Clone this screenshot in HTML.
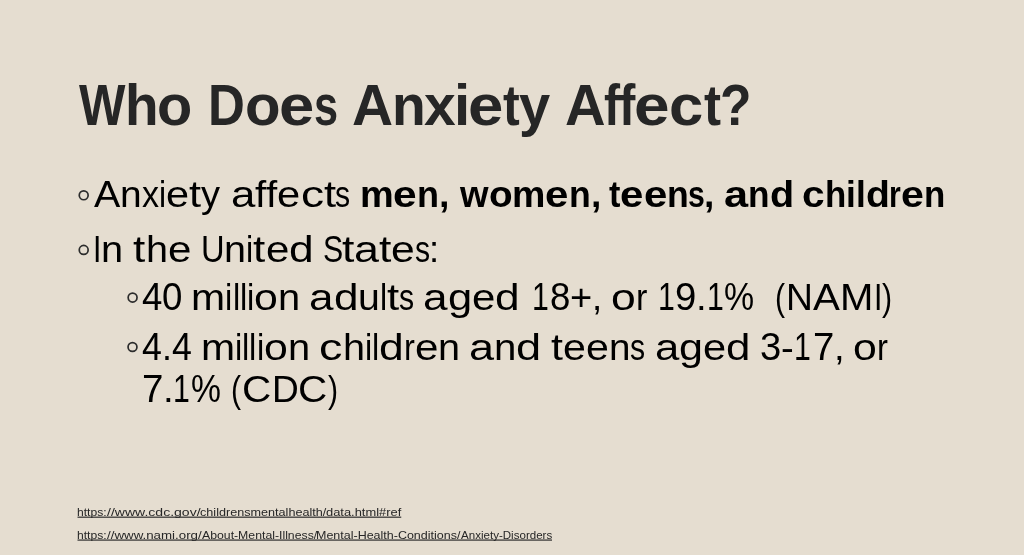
<!DOCTYPE html>
<html><head><meta charset="utf-8"><title>Who Does Anxiety Affect?</title>
<style>
html,body{margin:0;padding:0;}
body{width:1024px;height:555px;background:#e5ddd0;position:relative;overflow:hidden;font-family:"Liberation Sans",sans-serif;}
.w{position:absolute;white-space:nowrap;transform-origin:0 0;line-height:1;display:block;}
#s{position:absolute;left:0;top:0;width:1024px;height:555px;will-change:transform;}
</style></head><body><div id="s">
<svg style="position:absolute;left:0;top:0" width="1024" height="555" viewBox="0 0 1024 555"><circle cx="83.7" cy="195.3" r="4.45" fill="none" stroke="#2c2c2c" stroke-width="1.7"/><circle cx="83.7" cy="249.9" r="4.45" fill="none" stroke="#2c2c2c" stroke-width="1.7"/><circle cx="132.6" cy="297.6" r="4.45" fill="none" stroke="#2c2c2c" stroke-width="1.7"/><circle cx="132.5" cy="347.0" r="4.45" fill="none" stroke="#2c2c2c" stroke-width="1.7"/><rect x="77.5" y="516.6" width="323.75" height="1.15" fill="#262626"/><rect x="77.5" y="539.5" width="474.5" height="1.15" fill="#262626"/></svg>
<span class="w" style="left:78.50px;top:78px;font-size:56.5px;font-weight:700;color:#262626;transform:scaleX(0.8714)">W</span><span class="w" style="left:125.36px;top:78px;font-size:56.5px;font-weight:700;color:#262626;transform:scaleX(0.9722)">h</span><span class="w" style="left:157.45px;top:78px;font-size:56.5px;font-weight:700;color:#262626;transform:scaleX(1.0217)">o</span><span class="w" style="left:207.91px;top:78px;font-size:56.5px;font-weight:700;color:#262626;transform:scaleX(0.9036)">D</span><span class="w" style="left:244.58px;top:78px;font-size:56.5px;font-weight:700;color:#262626;transform:scaleX(1.0300)">o</span><span class="w" style="left:279.47px;top:78px;font-size:56.5px;font-weight:700;color:#262626;transform:scaleX(1.1229)">e</span><span class="w" style="left:314.27px;top:78px;font-size:56.5px;font-weight:700;color:#262626;transform:scaleX(0.7667)">s</span><span class="w" style="left:352.49px;top:78px;font-size:56.5px;font-weight:700;color:#262626;transform:scaleX(1.0066)">A</span><span class="w" style="left:392.43px;top:78px;font-size:56.5px;font-weight:700;color:#262626;transform:scaleX(0.9780)">n</span><span class="w" style="left:424.00px;top:78px;font-size:56.5px;font-weight:700;color:#262626;transform:scaleX(1.0082)">x</span><span class="w" style="left:453.77px;top:78px;font-size:56.5px;font-weight:700;color:#262626;transform:scaleX(1.0323)">i</span><span class="w" style="left:467.57px;top:78px;font-size:56.5px;font-weight:700;color:#262626;transform:scaleX(1.1248)">e</span><span class="w" style="left:503.23px;top:78px;font-size:56.5px;font-weight:700;color:#262626;transform:scaleX(0.8899)">t</span><span class="w" style="left:519.00px;top:78px;font-size:56.5px;font-weight:700;color:#262626;transform:scaleX(0.9918)">y</span><span class="w" style="left:565.01px;top:78px;font-size:56.5px;font-weight:700;color:#262626;transform:scaleX(0.9934)">A</span><span class="w" style="left:604.40px;top:78px;font-size:56.5px;font-weight:700;color:#262626;transform:scaleX(0.8528)">f</span><span class="w" style="left:618.88px;top:78px;font-size:56.5px;font-weight:700;color:#262626;transform:scaleX(0.8694)">f</span><span class="w" style="left:634.35px;top:78px;font-size:56.5px;font-weight:700;color:#262626;transform:scaleX(1.1321)">e</span><span class="w" style="left:669.45px;top:78px;font-size:56.5px;font-weight:700;color:#262626;transform:scaleX(1.0909)">c</span><span class="w" style="left:704.32px;top:78px;font-size:56.5px;font-weight:700;color:#262626;transform:scaleX(0.9043)">t</span><span class="w" style="left:719.99px;top:78px;font-size:56.5px;font-weight:700;color:#262626;transform:scaleX(0.9123)">?</span>
<span class="w" style="left:93.76px;top:176px;font-size:37.8px;font-weight:400;color:#000;transform:scaleX(1.0420)">A</span><span class="w" style="left:120.03px;top:176px;font-size:37.8px;font-weight:400;color:#000;transform:scaleX(1.0301)">n</span><span class="w" style="left:141.69px;top:176px;font-size:37.8px;font-weight:400;color:#000;transform:scaleX(0.9017)">x</span><span class="w" style="left:158.73px;top:176px;font-size:37.8px;font-weight:400;color:#000;transform:scaleX(0.8455)">i</span><span class="w" style="left:165.83px;top:176px;font-size:37.8px;font-weight:400;color:#000;transform:scaleX(1.0977)">e</span><span class="w" style="left:188.90px;top:176px;font-size:37.8px;font-weight:400;color:#000;transform:scaleX(1.1460)">t</span><span class="w" style="left:200.94px;top:176px;font-size:37.8px;font-weight:400;color:#000;transform:scaleX(1.0068)">y</span><span class="w" style="left:230.56px;top:176px;font-size:37.8px;font-weight:400;color:#000;transform:scaleX(1.1595)">a</span><span class="w" style="left:254.93px;top:176px;font-size:37.8px;font-weight:400;color:#000;transform:scaleX(1.0671)">f</span><span class="w" style="left:266.14px;top:176px;font-size:37.8px;font-weight:400;color:#000;transform:scaleX(1.0671)">f</span><span class="w" style="left:277.35px;top:176px;font-size:37.8px;font-weight:400;color:#000;transform:scaleX(1.1035)">e</span><span class="w" style="left:300.54px;top:176px;font-size:37.8px;font-weight:400;color:#000;transform:scaleX(1.2218)">c</span><span class="w" style="left:323.64px;top:176px;font-size:37.8px;font-weight:400;color:#000;transform:scaleX(1.1521)">t</span><span class="w" style="left:335.10px;top:176px;font-size:37.8px;font-weight:400;color:#000;transform:scaleX(0.8000)">s</span><span class="w" style="left:359.74px;top:176px;font-size:37.8px;font-weight:700;color:#000;transform:scaleX(1.0033)">m</span><span class="w" style="left:393.46px;top:176px;font-size:37.8px;font-weight:700;color:#000;transform:scaleX(1.1236)">e</span><span class="w" style="left:417.08px;top:176px;font-size:37.8px;font-weight:700;color:#000;transform:scaleX(0.9527)">n</span><span class="w" style="left:439.08px;top:176px;font-size:37.8px;font-weight:700;color:#000;transform:scaleX(0.9959)">,</span><span class="w" style="left:460.00px;top:176px;font-size:37.8px;font-weight:700;color:#000;transform:scaleX(0.9704)">w</span><span class="w" style="left:488.53px;top:176px;font-size:37.8px;font-weight:700;color:#000;transform:scaleX(1.0226)">o</span><span class="w" style="left:512.14px;top:176px;font-size:37.8px;font-weight:700;color:#000;transform:scaleX(0.9922)">m</span><span class="w" style="left:545.49px;top:176px;font-size:37.8px;font-weight:700;color:#000;transform:scaleX(1.1112)">e</span><span class="w" style="left:568.85px;top:176px;font-size:37.8px;font-weight:700;color:#000;transform:scaleX(0.9422)">n</span><span class="w" style="left:590.61px;top:176px;font-size:37.8px;font-weight:700;color:#000;transform:scaleX(0.9849)">,</span><span class="w" style="left:608.91px;top:176px;font-size:37.8px;font-weight:700;color:#000;transform:scaleX(0.9055)">t</span><span class="w" style="left:620.31px;top:176px;font-size:37.8px;font-weight:700;color:#000;transform:scaleX(1.1099)">e</span><span class="w" style="left:643.65px;top:176px;font-size:37.8px;font-weight:700;color:#000;transform:scaleX(1.1099)">e</span><span class="w" style="left:666.98px;top:176px;font-size:37.8px;font-weight:700;color:#000;transform:scaleX(0.9411)">n</span><span class="w" style="left:687.78px;top:176px;font-size:37.8px;font-weight:700;color:#000;transform:scaleX(0.8000)">s</span><span class="w" style="left:703.67px;top:176px;font-size:37.8px;font-weight:700;color:#000;transform:scaleX(0.9837)">,</span><span class="w" style="left:724.30px;top:176px;font-size:37.8px;font-weight:700;color:#000;transform:scaleX(1.1460)">a</span><span class="w" style="left:748.39px;top:176px;font-size:37.8px;font-weight:700;color:#000;transform:scaleX(0.9319)">n</span><span class="w" style="left:769.91px;top:176px;font-size:37.8px;font-weight:700;color:#000;transform:scaleX(1.0465)">d</span><span class="w" style="left:802.24px;top:176px;font-size:37.8px;font-weight:700;color:#000;transform:scaleX(1.0743)">c</span><span class="w" style="left:824.82px;top:176px;font-size:37.8px;font-weight:700;color:#000;transform:scaleX(0.9222)">h</span><span class="w" style="left:846.11px;top:176px;font-size:37.8px;font-weight:700;color:#000;transform:scaleX(0.9307)">i</span><span class="w" style="left:855.89px;top:176px;font-size:37.8px;font-weight:700;color:#000;transform:scaleX(0.9307)">l</span><span class="w" style="left:865.66px;top:176px;font-size:37.8px;font-weight:700;color:#000;transform:scaleX(1.0355)">d</span><span class="w" style="left:889.45px;top:176px;font-size:37.8px;font-weight:700;color:#000;transform:scaleX(0.8000)">r</span><span class="w" style="left:901.09px;top:176px;font-size:37.8px;font-weight:700;color:#000;transform:scaleX(1.0876)">e</span><span class="w" style="left:923.95px;top:176px;font-size:37.8px;font-weight:700;color:#000;transform:scaleX(0.9222)">n</span>
<span class="w" style="left:93.18px;top:231px;font-size:37.8px;font-weight:400;color:#000;transform:scaleX(0.8000)">I</span><span class="w" style="left:101.48px;top:231px;font-size:37.8px;font-weight:400;color:#000;transform:scaleX(1.0521)">n</span><span class="w" style="left:133.36px;top:231px;font-size:37.8px;font-weight:400;color:#000;transform:scaleX(1.1647)">t</span><span class="w" style="left:145.59px;top:231px;font-size:37.8px;font-weight:400;color:#000;transform:scaleX(1.0469)">h</span><span class="w" style="left:167.60px;top:231px;font-size:37.8px;font-weight:400;color:#000;transform:scaleX(1.1156)">e</span><span class="w" style="left:200.65px;top:231px;font-size:37.8px;font-weight:400;color:#000;transform:scaleX(0.8641)">U</span><span class="w" style="left:224.24px;top:231px;font-size:37.8px;font-weight:400;color:#000;transform:scaleX(1.0450)">n</span><span class="w" style="left:246.21px;top:231px;font-size:37.8px;font-weight:400;color:#000;transform:scaleX(0.8577)">i</span><span class="w" style="left:253.41px;top:231px;font-size:37.8px;font-weight:400;color:#000;transform:scaleX(1.1625)">t</span><span class="w" style="left:265.62px;top:231px;font-size:37.8px;font-weight:400;color:#000;transform:scaleX(1.1135)">e</span><span class="w" style="left:289.03px;top:231px;font-size:37.8px;font-weight:400;color:#000;transform:scaleX(1.1735)">d</span><span class="w" style="left:322.61px;top:231px;font-size:37.8px;font-weight:400;color:#000;transform:scaleX(0.8000)">S</span><span class="w" style="left:341.79px;top:231px;font-size:37.8px;font-weight:400;color:#000;transform:scaleX(1.1789)">t</span><span class="w" style="left:354.17px;top:231px;font-size:37.8px;font-weight:400;color:#000;transform:scaleX(1.1865)">a</span><span class="w" style="left:379.11px;top:231px;font-size:37.8px;font-weight:400;color:#000;transform:scaleX(1.1789)">t</span><span class="w" style="left:391.49px;top:231px;font-size:37.8px;font-weight:400;color:#000;transform:scaleX(1.1292)">e</span><span class="w" style="left:414.76px;top:231px;font-size:37.8px;font-weight:400;color:#000;transform:scaleX(0.8000)">s</span><span class="w" style="left:429.40px;top:231px;font-size:37.8px;font-weight:400;color:#000;transform:scaleX(0.9633)">:</span>
<span class="w" style="left:141.95px;top:279px;font-size:37.8px;font-weight:400;color:#000;transform-origin:0 31px;transform:scale(0.9684,1.035)">4</span><span class="w" style="left:162.31px;top:279px;font-size:37.8px;font-weight:400;color:#000;transform-origin:0 31px;transform:scale(0.9684,1.035)">0</span><span class="w" style="left:191.18px;top:279px;font-size:37.8px;font-weight:400;color:#000;transform:scaleX(1.0818)">m</span><span class="w" style="left:225.24px;top:279px;font-size:37.8px;font-weight:400;color:#000;transform:scaleX(0.8649)">i</span><span class="w" style="left:232.51px;top:279px;font-size:37.8px;font-weight:400;color:#000;transform:scaleX(0.8649)">l</span><span class="w" style="left:239.77px;top:279px;font-size:37.8px;font-weight:400;color:#000;transform:scaleX(0.8649)">l</span><span class="w" style="left:247.03px;top:279px;font-size:37.8px;font-weight:400;color:#000;transform:scaleX(0.8649)">i</span><span class="w" style="left:254.30px;top:279px;font-size:37.8px;font-weight:400;color:#000;transform:scaleX(1.1315)">o</span><span class="w" style="left:278.08px;top:279px;font-size:37.8px;font-weight:400;color:#000;transform:scaleX(1.0537)">n</span><span class="w" style="left:309.15px;top:279px;font-size:37.8px;font-weight:400;color:#000;transform:scaleX(1.1648)">a</span><span class="w" style="left:333.63px;top:279px;font-size:37.8px;font-weight:400;color:#000;transform:scaleX(1.1682)">d</span><span class="w" style="left:358.19px;top:279px;font-size:37.8px;font-weight:400;color:#000;transform:scaleX(1.0369)">u</span><span class="w" style="left:379.99px;top:279px;font-size:37.8px;font-weight:400;color:#000;transform:scaleX(0.8538)">l</span><span class="w" style="left:387.16px;top:279px;font-size:37.8px;font-weight:400;color:#000;transform:scaleX(1.1573)">t</span><span class="w" style="left:398.71px;top:279px;font-size:37.8px;font-weight:400;color:#000;transform:scaleX(0.8000)">s</span><span class="w" style="left:423.24px;top:279px;font-size:37.8px;font-weight:400;color:#000;transform:scaleX(1.1677)">a</span><span class="w" style="left:447.79px;top:279px;font-size:37.8px;font-weight:400;color:#000;transform:scaleX(1.1523)">g</span><span class="w" style="left:472.01px;top:279px;font-size:37.8px;font-weight:400;color:#000;transform:scaleX(1.1112)">e</span><span class="w" style="left:495.37px;top:279px;font-size:37.8px;font-weight:400;color:#000;transform:scaleX(1.1711)">d</span><span class="w" style="left:531.71px;top:279px;font-size:37.8px;font-weight:400;color:#000;transform-origin:0 31px;transform:scale(0.8000,1.035)">1</span><span class="w" style="left:549.50px;top:279px;font-size:37.8px;font-weight:400;color:#000;transform-origin:0 31px;transform:scale(0.9671,1.035)">8</span><span class="w" style="left:569.83px;top:279px;font-size:37.8px;font-weight:400;color:#000;transform:scaleX(1.0075)">+</span><span class="w" style="left:592.07px;top:279px;font-size:37.8px;font-weight:400;color:#000;transform:scaleX(0.9680)">,</span><span class="w" style="left:610.80px;top:279px;font-size:37.8px;font-weight:400;color:#000;transform:scaleX(1.1766)">o</span><span class="w" style="left:635.54px;top:279px;font-size:37.8px;font-weight:400;color:#000;transform:scaleX(0.9030)">r</span><span class="w" style="left:657.61px;top:279px;font-size:37.8px;font-weight:400;color:#000;transform-origin:0 31px;transform:scale(0.8000,1.035)">1</span><span class="w" style="left:675.07px;top:279px;font-size:37.8px;font-weight:400;color:#000;transform-origin:0 31px;transform:scale(1.0136,1.035)">9</span><span class="w" style="left:696.37px;top:279px;font-size:37.8px;font-weight:400;color:#000;transform:scaleX(1.0145)">.</span><span class="w" style="left:706.81px;top:279px;font-size:37.8px;font-weight:400;color:#000;transform-origin:0 31px;transform:scale(0.8000,1.035)">1</span><span class="w" style="left:723.68px;top:279px;font-size:37.8px;font-weight:400;color:#000;transform-origin:0 31px;transform:scale(0.8951,1.035)">%</span><span class="w" style="left:774.59px;top:279px;font-size:37.8px;font-weight:400;color:#000;transform:scaleX(0.8000)">(</span><span class="w" style="left:786.43px;top:279px;font-size:37.8px;font-weight:400;color:#000;transform:scaleX(0.9850)">N</span><span class="w" style="left:813.32px;top:279px;font-size:37.8px;font-weight:400;color:#000;transform:scaleX(1.0664)">A</span><span class="w" style="left:840.21px;top:279px;font-size:37.8px;font-weight:400;color:#000;transform:scaleX(1.0605)">M</span><span class="w" style="left:873.50px;top:279px;font-size:37.8px;font-weight:400;color:#000;transform:scaleX(0.8000)">I</span><span class="w" style="left:882.19px;top:279px;font-size:37.8px;font-weight:400;color:#000;transform:scaleX(0.8000)">)</span>
<span class="w" style="left:141.97px;top:329px;font-size:37.8px;font-weight:400;color:#000;transform-origin:0 31px;transform:scale(0.9456,1.035)">4</span><span class="w" style="left:161.85px;top:329px;font-size:37.8px;font-weight:400;color:#000;transform:scaleX(0.9465)">.</span><span class="w" style="left:171.79px;top:329px;font-size:37.8px;font-weight:400;color:#000;transform-origin:0 31px;transform:scale(0.9456,1.035)">4</span><span class="w" style="left:200.88px;top:329px;font-size:37.8px;font-weight:400;color:#000;transform:scaleX(1.0818)">m</span><span class="w" style="left:234.94px;top:329px;font-size:37.8px;font-weight:400;color:#000;transform:scaleX(0.8649)">i</span><span class="w" style="left:242.21px;top:329px;font-size:37.8px;font-weight:400;color:#000;transform:scaleX(0.8649)">l</span><span class="w" style="left:249.47px;top:329px;font-size:37.8px;font-weight:400;color:#000;transform:scaleX(0.8649)">l</span><span class="w" style="left:256.73px;top:329px;font-size:37.8px;font-weight:400;color:#000;transform:scaleX(0.8649)">i</span><span class="w" style="left:264.00px;top:329px;font-size:37.8px;font-weight:400;color:#000;transform:scaleX(1.1315)">o</span><span class="w" style="left:287.78px;top:329px;font-size:37.8px;font-weight:400;color:#000;transform:scaleX(1.0537)">n</span><span class="w" style="left:319.33px;top:329px;font-size:37.8px;font-weight:400;color:#000;transform:scaleX(1.2360)">c</span><span class="w" style="left:342.69px;top:329px;font-size:37.8px;font-weight:400;color:#000;transform:scaleX(1.0476)">h</span><span class="w" style="left:364.72px;top:329px;font-size:37.8px;font-weight:400;color:#000;transform:scaleX(0.8598)">i</span><span class="w" style="left:371.94px;top:329px;font-size:37.8px;font-weight:400;color:#000;transform:scaleX(0.8598)">l</span><span class="w" style="left:379.16px;top:329px;font-size:37.8px;font-weight:400;color:#000;transform:scaleX(1.1764)">d</span><span class="w" style="left:403.89px;top:329px;font-size:37.8px;font-weight:400;color:#000;transform:scaleX(0.8633)">r</span><span class="w" style="left:414.76px;top:329px;font-size:37.8px;font-weight:400;color:#000;transform:scaleX(1.1163)">e</span><span class="w" style="left:438.23px;top:329px;font-size:37.8px;font-weight:400;color:#000;transform:scaleX(1.0476)">n</span><span class="w" style="left:468.90px;top:329px;font-size:37.8px;font-weight:400;color:#000;transform:scaleX(1.1914)">a</span><span class="w" style="left:493.95px;top:329px;font-size:37.8px;font-weight:400;color:#000;transform:scaleX(1.0641)">n</span><span class="w" style="left:516.32px;top:329px;font-size:37.8px;font-weight:400;color:#000;transform:scaleX(1.1949)">d</span><span class="w" style="left:551.18px;top:329px;font-size:37.8px;font-weight:400;color:#000;transform:scaleX(1.1368)">t</span><span class="w" style="left:563.12px;top:329px;font-size:37.8px;font-weight:400;color:#000;transform:scaleX(1.0889)">e</span><span class="w" style="left:586.01px;top:329px;font-size:37.8px;font-weight:400;color:#000;transform:scaleX(1.0889)">e</span><span class="w" style="left:608.90px;top:329px;font-size:37.8px;font-weight:400;color:#000;transform:scaleX(1.0219)">n</span><span class="w" style="left:629.65px;top:329px;font-size:37.8px;font-weight:400;color:#000;transform:scaleX(0.8000)">s</span><span class="w" style="left:654.96px;top:329px;font-size:37.8px;font-weight:400;color:#000;transform:scaleX(1.1563)">a</span><span class="w" style="left:679.27px;top:329px;font-size:37.8px;font-weight:400;color:#000;transform:scaleX(1.1410)">g</span><span class="w" style="left:703.26px;top:329px;font-size:37.8px;font-weight:400;color:#000;transform:scaleX(1.1004)">e</span><span class="w" style="left:726.39px;top:329px;font-size:37.8px;font-weight:400;color:#000;transform:scaleX(1.1597)">d</span><span class="w" style="left:760.23px;top:329px;font-size:37.8px;font-weight:400;color:#000;transform-origin:0 31px;transform:scale(1.0105,1.035)">3</span><span class="w" style="left:781.48px;top:329px;font-size:37.8px;font-weight:400;color:#000;transform:scaleX(1.0113)">-</span><span class="w" style="left:794.34px;top:329px;font-size:37.8px;font-weight:400;color:#000;transform-origin:0 31px;transform:scale(0.8000,1.035)">1</span><span class="w" style="left:812.50px;top:329px;font-size:37.8px;font-weight:400;color:#000;transform-origin:0 31px;transform:scale(1.0136,1.035)">7</span><span class="w" style="left:833.81px;top:329px;font-size:37.8px;font-weight:400;color:#000;transform:scaleX(1.0145)">,</span><span class="w" style="left:852.77px;top:329px;font-size:37.8px;font-weight:400;color:#000;transform:scaleX(1.1312)">o</span><span class="w" style="left:876.55px;top:329px;font-size:37.8px;font-weight:400;color:#000;transform:scaleX(0.8682)">r</span>
<span class="w" style="left:141.79px;top:371px;font-size:37.8px;font-weight:400;color:#000;transform-origin:0 31px;transform:scale(1.0199,1.035)">7</span><span class="w" style="left:163.23px;top:371px;font-size:37.8px;font-weight:400;color:#000;transform:scaleX(1.0208)">.</span><span class="w" style="left:172.51px;top:371px;font-size:37.8px;font-weight:400;color:#000;transform-origin:0 31px;transform:scale(0.8000,1.035)">1</span><span class="w" style="left:190.59px;top:371px;font-size:37.8px;font-weight:400;color:#000;transform-origin:0 31px;transform:scale(0.8902,1.035)">%</span><span class="w" style="left:230.81px;top:371px;font-size:37.8px;font-weight:400;color:#000;transform:scaleX(0.8000)">(</span><span class="w" style="left:242.44px;top:371px;font-size:37.8px;font-weight:400;color:#000;transform:scaleX(1.0713)">C</span><span class="w" style="left:271.69px;top:371px;font-size:37.8px;font-weight:400;color:#000;transform:scaleX(0.9804)">D</span><span class="w" style="left:298.45px;top:371px;font-size:37.8px;font-weight:400;color:#000;transform:scaleX(1.0713)">C</span><span class="w" style="left:328.46px;top:371px;font-size:37.8px;font-weight:400;color:#000;transform:scaleX(0.8000)">)</span>
<span class="w" style="left:76.72px;top:506px;font-size:11.6px;font-weight:400;color:#262626;transform:scaleX(1.0453)">https:</span><span class="w" style="left:106.50px;top:506px;font-size:11.6px;font-weight:400;color:#262626;transform:scaleX(1.2104)">//www.cdc.gov/</span><span class="w" style="left:199.96px;top:506px;font-size:11.6px;font-weight:400;color:#262626;transform:scaleX(1.0887)">childrensmentalhealth/</span><span class="w" style="left:325.94px;top:506px;font-size:11.6px;font-weight:400;color:#262626;transform:scaleX(1.1115)">data.html#ref</span>
<span class="w" style="left:76.72px;top:529px;font-size:11.6px;font-weight:400;color:#262626;transform:scaleX(1.0453)">https:</span><span class="w" style="left:106.50px;top:529px;font-size:11.6px;font-weight:400;color:#262626;transform:scaleX(1.1485)">//www.nami.org/</span><span class="w" style="left:202.00px;top:529px;font-size:11.6px;font-weight:400;color:#262626;transform:scaleX(1.0575)">About-Mental-Illness/</span><span class="w" style="left:316.42px;top:529px;font-size:11.6px;font-weight:400;color:#262626;transform:scaleX(1.0771)">Mental-Health-Conditions/</span><span class="w" style="left:461.25px;top:529px;font-size:11.6px;font-weight:400;color:#262626;transform:scaleX(0.9973)">Anxiety-Disorders</span>
</div></body></html>
